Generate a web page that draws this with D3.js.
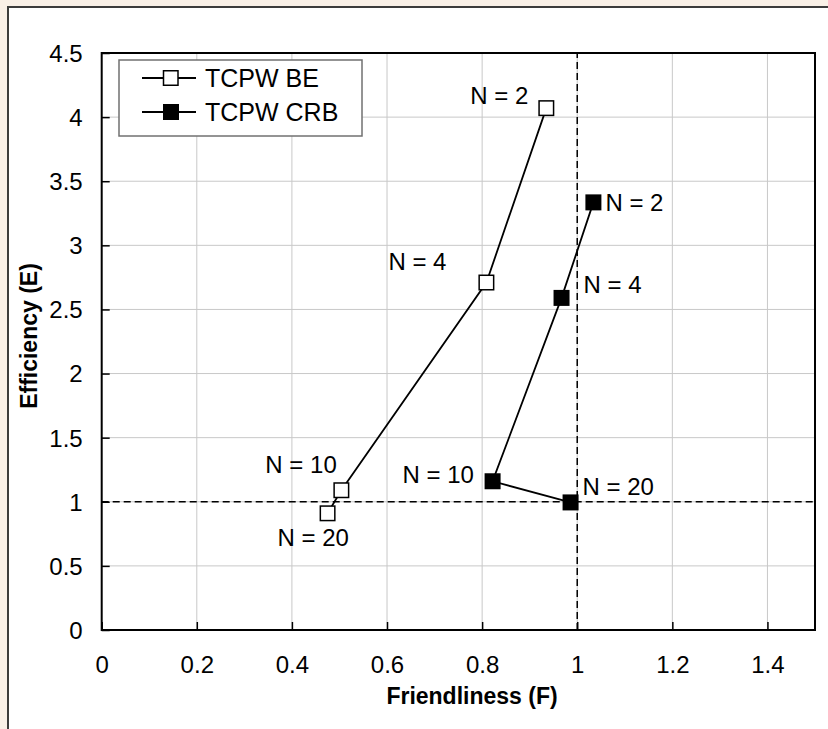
<!DOCTYPE html>
<html>
<head>
<meta charset="utf-8">
<script src="https://cdn.jsdelivr.net/npm/d3@7"></script>
<style>
  body { margin: 0; background: #f9f0e7; }
  svg { display: block; font-family: "Liberation Sans", Arial, sans-serif; }
  .grid line { stroke: #c8c8c8; stroke-width: 1; }
</style>
</head>
<body>
<svg width="828" height="729"></svg>
<script>

// series: friendliness (F) and efficiency (E) for N = 2, 4, 10, 20
var nLabels = ["N = 2", "N = 4", "N = 10", "N = 20"];
var beF = [0.935, 0.809, 0.504, 0.475];
var beE = [4.07, 2.71, 1.09, 0.91];
var crbF = [1.034, 0.967, 0.822, 0.986];
var crbE = [3.335, 2.59, 1.16, 0.995];

var xTicks = [0, 0.2, 0.4, 0.6, 0.8, 1, 1.2, 1.4];
var yTicks = [0, 0.5, 1, 1.5, 2, 2.5, 3, 3.5, 4, 4.5];

// label offsets (dx, dy from the point to the text baseline start)
var beLabelPos = [[-76, -4], [-98, -13], [-76, -17], [-50, 33]];
var crbLabelPos = [[12, 9], [22, -5], [-90, 2], [12, -7]];

var svg = d3.select("svg"),
    margin = {left: 101.7, right: 13, top: 53, bottom: 99},
    width = +svg.attr("width"),
    height = +svg.attr("height");

// white panel with dark edge on the left and top
svg.append("rect")
    .attr("x", 8).attr("y", 7)
    .attr("width", width).attr("height", height)
    .attr("fill", "#fff");
svg.append("path")
    .attr("d", "M8," + height + "V7H" + width)
    .attr("fill", "none")
    .attr("stroke", "#3c3c3c")
    .attr("stroke-width", 2);

var x = d3.scaleLinear().domain([0, 1.5]).range([margin.left, width - margin.right]);
var y = d3.scaleLinear().domain([0, 4.5]).range([height - margin.bottom, margin.top]);

// gridlines
var grid = svg.append("g").attr("class", "grid");
grid.selectAll(".gx")
    .data(xTicks.filter(function (d) { return d > 0; }))
    .enter().append("line")
    .attr("x1", function (d) { return x(d); })
    .attr("x2", function (d) { return x(d); })
    .attr("y1", y(0)).attr("y2", y(4.5));
grid.selectAll(".gy")
    .data(yTicks.filter(function (d) { return d > 0 && d < 4.5; }))
    .enter().append("line")
    .attr("y1", function (d) { return y(d); })
    .attr("y2", function (d) { return y(d); })
    .attr("x1", x(0)).attr("x2", x(1.5));

// axes with short inward ticks
var xAxis = svg.append("g")
    .attr("transform", "translate(0," + y(0) + ")")
    .call(d3.axisBottom(x).tickValues(xTicks).tickSize(-8).tickPadding(26)
        .tickFormat(function (d) { return d3.format("")(d); }));
var yAxis = svg.append("g")
    .attr("transform", "translate(" + x(0) + ",0)")
    .call(d3.axisLeft(y).tickValues(yTicks).tickSize(-8).tickPadding(19)
        .tickFormat(function (d) { return d3.format("")(d); }));

[xAxis, yAxis].forEach(function (a) {
    a.select(".domain").remove();
    a.selectAll(".tick line").attr("stroke", "#000").attr("stroke-width", 1.5);
    a.selectAll(".tick text")
        .attr("font-family", "Liberation Sans, Arial, sans-serif")
        .attr("font-size", 24)
        .attr("fill", "#000");
});
xAxis.selectAll(".tick text").attr("dy", "0.71em");
yAxis.selectAll(".tick text").attr("dy", "0.35em");

// plot frame
svg.append("rect")
    .attr("x", x(0)).attr("y", y(4.5))
    .attr("width", x(1.5) - x(0)).attr("height", y(0) - y(4.5))
    .attr("fill", "none")
    .attr("stroke", "#000")
    .attr("stroke-width", 2);

// reference lines at F = 1 and E = 1
svg.append("line")
    .attr("x1", x(1)).attr("x2", x(1))
    .attr("y1", y(0)).attr("y2", y(4.5))
    .attr("stroke", "#000").attr("stroke-width", 1.5)
    .attr("stroke-dasharray", "7,4");
svg.append("line")
    .attr("x1", x(0)).attr("x2", x(1.5))
    .attr("y1", y(1)).attr("y2", y(1))
    .attr("stroke", "#000").attr("stroke-width", 1.5)
    .attr("stroke-dasharray", "7,4");

function drawSeries(fs, es, filled, labelPos) {
    var pts = fs.map(function (f, i) { return {f: f, e: es[i], label: nLabels[i], pos: labelPos[i]}; });
    var line = d3.line()
        .x(function (d) { return x(d.f); })
        .y(function (d) { return y(d.e); });
    svg.append("path")
        .datum(pts)
        .attr("d", line)
        .attr("fill", "none")
        .attr("stroke", "#000")
        .attr("stroke-width", 1.8);
    var s = filled ? 16 : 14.5;
    svg.append("g").selectAll("rect")
        .data(pts)
        .enter().append("rect")
        .attr("x", function (d) { return x(d.f) - s / 2; })
        .attr("y", function (d) { return y(d.e) - s / 2; })
        .attr("width", s).attr("height", s)
        .attr("fill", filled ? "#000" : "#fff")
        .attr("stroke", "#000")
        .attr("stroke-width", filled ? 0 : 1.5);
    svg.append("g").selectAll("text")
        .data(pts)
        .enter().append("text")
        .attr("x", function (d) { return x(d.f) + d.pos[0]; })
        .attr("y", function (d) { return y(d.e) + d.pos[1]; })
        .attr("font-size", 24)
        .text(function (d) { return d.label; });
}

drawSeries(beF, beE, false, beLabelPos);
drawSeries(crbF, crbE, true, crbLabelPos);

// axis titles
svg.append("text")
    .attr("x", 472).attr("y", 704)
    .attr("text-anchor", "middle")
    .attr("font-size", 23)
    .attr("font-weight", "bold")
    .text("Friendliness (F)");
svg.append("text")
    .attr("transform", "translate(37,336) rotate(-90)")
    .attr("text-anchor", "middle")
    .attr("font-size", 23)
    .attr("font-weight", "bold")
    .text("Efficiency (E)");

// legend
var legend = svg.append("g").attr("transform", "translate(119,60)");
legend.append("rect")
    .attr("width", 243).attr("height", 76)
    .attr("fill", "#fff")
    .attr("stroke", "#707070")
    .attr("stroke-width", 1.5);
var legendItems = [{name: "TCPW BE", filled: false}, {name: "TCPW CRB", filled: true}];
var li = legend.selectAll(".item")
    .data(legendItems)
    .enter().append("g")
    .attr("transform", function (d, i) { return "translate(0," + (18 + i * 34) + ")"; });
li.append("line")
    .attr("x1", 23).attr("x2", 77)
    .attr("stroke", "#000").attr("stroke-width", 1.8);
li.append("rect")
    .attr("x", function (d) { return d.filled ? 44 : 44.5; })
    .attr("y", function (d) { return d.filled ? -8 : -7.25; })
    .attr("width", function (d) { return d.filled ? 16 : 14.5; })
    .attr("height", function (d) { return d.filled ? 16 : 14.5; })
    .attr("fill", function (d) { return d.filled ? "#000" : "#fff"; })
    .attr("stroke", "#000")
    .attr("stroke-width", function (d) { return d.filled ? 0 : 1.5; });
li.append("text")
    .attr("x", 86).attr("y", 8.5)
    .attr("font-size", 25)
    .text(function (d) { return d.name; });

</script>
</body>
</html>
